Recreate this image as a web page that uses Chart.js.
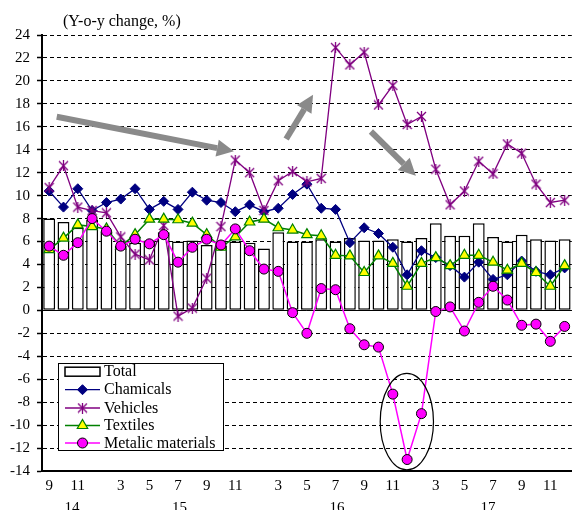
<!DOCTYPE html>
<html><head><meta charset="utf-8">
<script src="https://cdn.jsdelivr.net/npm/chart.js@4.4.1/dist/chart.umd.min.js"></script>
<style>html,body{margin:0;padding:0;background:#fff;overflow:hidden}</style>
</head><body>
<canvas id="c" width="579" height="510"></canvas>
<script>
// ---- data ----
const months = ['9','10','11','12','1-2','3','4','5','6','7','8','9','10','11','12',
  '1-2','3','4','5','6','7','8','9','10','11','12',
  '1-2','3','4','5','6','7','8','9','10','11','12'];
const yearLabels = ['14','15','16','17'];
const yearPositions = [1.6, 9.1, 20.1, 30.65];
const total = [8.0,7.7,7.2,7.9,6.8,5.6,5.9,6.1,6.8,6.0,6.1,5.7,5.6,6.0,5.9,5.4,6.8,6.0,6.0,6.2,6.0,6.3,6.1,6.1,6.2,6.0,6.3,7.6,6.5,6.5,7.6,6.4,6.0,6.6,6.2,6.1,6.2];
const chemicals = [10.4,9.0,10.6,8.7,9.4,9.7,10.6,8.8,9.5,8.8,10.3,9.6,9.4,8.6,9.2,8.6,8.9,10.1,11.0,8.9,8.8,5.9,7.2,6.7,5.5,3.1,5.2,4.6,3.9,2.9,4.2,2.7,3.1,4.3,3.4,3.1,3.7];
const vehicles = [10.7,12.6,9.0,8.7,8.5,6.4,4.9,4.4,7.4,-0.5,0.2,2.8,7.3,13.1,12.0,8.7,11.3,12.1,11.2,11.5,22.9,21.4,22.5,17.9,19.6,16.2,16.9,12.3,9.2,10.4,13.0,11.9,14.5,13.7,11.0,9.4,9.6];
const textiles = [5.3,6.3,7.45,7.3,7.1,5.6,6.6,7.95,7.95,7.9,7.6,6.6,5.5,6.4,7.7,7.95,7.2,7.0,6.6,6.5,4.8,4.75,3.3,4.75,4.1,2.1,4.1,4.6,3.9,4.8,4.8,4.2,3.5,4.1,3.3,2.1,3.9];
const metallic = [5.6,4.8,5.9,8.0,6.9,5.6,6.2,5.8,6.6,4.2,5.5,6.2,5.7,7.1,5.2,3.6,3.4,-0.2,-2.0,1.9,1.8,-1.6,-3.0,-3.2,-7.3,-13.0,-9.0,-0.1,0.3,-1.8,0.7,2.1,0.9,-1.3,-1.2,-2.7,-1.4];
const seriesNames = ['Total','Chamicals','Vehicles','Textiles','Metalic materials'];
// annotation arrows in data space: [xIndexFrom, yFrom, xIndexTo, yTo]
const arrows = [[0.53,16.87,12.9,13.86],[16.55,14.93,18.43,18.79],[22.47,15.59,25.61,11.73]];
const ellipseNote = {cx: 24.98, cy: -9.7, rx: 1.86, ry: 4.2};

const FONT = '"Liberation Serif", "Times New Roman", serif';

// star (asterisk) marker like Excel
function makeStar(color){
  const s = 11, c = document.createElement('canvas');
  c.width = s; c.height = s;
  const g = c.getContext('2d');
  g.strokeStyle = color; g.lineWidth = 1.3;
  g.beginPath();
  g.moveTo(1,1); g.lineTo(s-1,s-1);
  g.moveTo(s-1,1); g.lineTo(1,s-1);
  g.moveTo(s/2,0); g.lineTo(s/2,s);
  g.stroke();
  return c;
}
const starImg = makeStar('#800080');

function drawArrow(ctx,x1,y1,x2,y2){
  const a = Math.atan2(y2-y1,x2-x1), hl = 17, hw = 8.5;
  const bx = x2-hl*Math.cos(a), by = y2-hl*Math.sin(a);
  ctx.save();
  ctx.strokeStyle = '#8a8a8a'; ctx.fillStyle = '#8a8a8a';
  ctx.lineWidth = 6; ctx.lineCap = 'butt';
  ctx.beginPath(); ctx.moveTo(x1,y1); ctx.lineTo(bx,by); ctx.stroke();
  ctx.beginPath(); ctx.moveTo(x2,y2);
  ctx.lineTo(bx+hw*Math.sin(a), by-hw*Math.cos(a));
  ctx.lineTo(bx-hw*Math.sin(a), by+hw*Math.cos(a));
  ctx.closePath(); ctx.fill();
  ctx.restore();
}

const decor = {
  id: 'decor',
  beforeDatasetsDraw(chart){
    const {ctx, chartArea:a, scales:{y}} = chart;
    const y0 = Math.round(y.getPixelForValue(0))+0.5;
    ctx.save(); ctx.strokeStyle='#000'; ctx.lineWidth=1;
    ctx.beginPath(); ctx.moveTo(a.left,y0); ctx.lineTo(a.right,y0); ctx.stroke();
    ctx.restore();
  },
  afterDatasetsDraw(chart){
    const {ctx, scales:{x,y}} = chart;
    arrows.forEach(r => drawArrow(ctx, x.getPixelForValue(r[0]), y.getPixelForValue(r[1]), x.getPixelForValue(r[2]), y.getPixelForValue(r[3])));
    // ellipse
    const cx = x.getPixelForValue(ellipseNote.cx), cy = y.getPixelForValue(ellipseNote.cy);
    const rx = Math.abs(x.getPixelForValue(ellipseNote.cx+ellipseNote.rx)-cx);
    const ry = Math.abs(y.getPixelForValue(ellipseNote.cy+ellipseNote.ry)-cy);
    ctx.save(); ctx.strokeStyle='#000'; ctx.lineWidth=1.2;
    ctx.beginPath(); ctx.ellipse(cx,cy,rx,ry,0,0,Math.PI*2); ctx.stroke();
    // legend
    const L = 58, T = 363, W = 165, H = 87;
    ctx.fillStyle='#fff'; ctx.fillRect(L,T,W,H);
    ctx.strokeStyle='#000'; ctx.lineWidth=1; ctx.strokeRect(L+0.5,T+0.5,W,H);
    const rows = [371.7, 389.7, 408, 425.5, 443];
    const ds = chart.data.datasets;
    ctx.font = '16px '+FONT; ctx.textBaseline='middle'; ctx.textAlign='left'; ctx.fillStyle='#000';
    rows.forEach((ry2,i)=>{
      const d = ds[i];
      if(i===0){
        ctx.fillStyle='#fff'; ctx.fillRect(65,ry2-4.5,35,9);
        ctx.strokeStyle='#000'; ctx.lineWidth=1.5; ctx.strokeRect(65,ry2-4.5,35,9);
      } else {
        ctx.strokeStyle=d.borderColor; ctx.lineWidth=d.borderWidth;
        ctx.beginPath(); ctx.moveTo(65,ry2); ctx.lineTo(100,ry2); ctx.stroke();
        ctx.save();
        ctx.fillStyle=d.pointBackgroundColor; ctx.strokeStyle=d.pointBorderColor; ctx.lineWidth=d.pointBorderWidth;
        Chart.helpers.drawPoint(ctx, {pointStyle:d.pointStyle, radius:d.pointRadius, borderWidth:d.pointBorderWidth, rotation:0}, 82.5, ry2);
        ctx.restore();
      }
      ctx.fillStyle='#000';
      ctx.fillText(seriesNames[i], 104, ry2+0.5);
    });
    ctx.restore();
  },
  afterDraw(chart){
    const {ctx, scales:{x}} = chart;
    ctx.save(); ctx.fillStyle='#000'; ctx.font='16px '+FONT;
    ctx.textBaseline='middle'; ctx.textAlign='left';
    ctx.fillText('(Y-o-y change, %)', 63, 22);
    ctx.font='15px '+FONT;
    ctx.textAlign='center'; ctx.textBaseline='top';
    yearLabels.forEach((t,i)=>ctx.fillText(t, x.getPixelForValue(yearPositions[i]), 501));
    ctx.restore();
  }
};

const lineDs = (label, data, color, style, radius, bg, border, bw, order, lw) => ({
  type:'line', label, data, borderColor:color, borderWidth:lw, tension:0, fill:false,
  pointStyle:style, pointRadius:radius, pointHoverRadius:radius,
  pointBackgroundColor:bg, pointBorderColor:border, pointBorderWidth:bw, order
});

new Chart(document.getElementById('c'), {
  type:'bar',
  data:{
    labels: months,
    datasets:[
      {type:'bar', label:'Total', data:total, backgroundColor:'#fff', borderColor:'#000', borderWidth:1.5,
       borderSkipped:false, categoryPercentage:1, barPercentage:0.83, order:10},
      lineDs('Chamicals', chemicals, '#000080', 'rectRot', 5, '#000080', '#000080', 1, 4, 1.3),
      lineDs('Vehicles', vehicles, '#800080', starImg, 5, '#800080', '#800080', 1, 3, 1.3),
      lineDs('Textiles', textiles, '#008000', 'triangle', 6, '#ffff00', '#008000', 1.2, 2, 1.5),
      lineDs('Metalic materials', metallic, '#ff00ff', 'circle', 5, '#ff00ff', '#000', 1, 1, 1.5)
    ]
  },
  options:{
    responsive:false, animation:false, devicePixelRatio:1,
    layout:{padding:{top:35, right:0, left:0, bottom:0}},
    plugins:{legend:{display:false}, tooltip:{enabled:false}},
    scales:{
      x:{
        grid:{display:false, drawTicks:false},
        border:{display:true, color:'#000', width:2},
        ticks:{autoSkip:false, maxRotation:0, minRotation:0, padding:6, color:'#000',
          font:{family:FONT, size:15},
          callback:(v,i)=>{const m=months[i]; return (m!=='1-2' && parseInt(m)%2===1)?m:'';}},
        afterFit:(s)=>{s.height=39;}
      },
      y:{
        min:-14, max:24,
        grid:{color:'#000', lineWidth:1, drawTicks:true, tickLength:5, tickColor:'#000', tickWidth:1.5},
        border:{display:true, color:'#000', width:2, dash:[4,3]},
        ticks:{stepSize:2, padding:7, color:'#000', font:{family:FONT, size:15}},
        afterFit:(s)=>{s.width=42;}
      }
    }
  },
  plugins:[decor]
});
</script>
</body></html>
